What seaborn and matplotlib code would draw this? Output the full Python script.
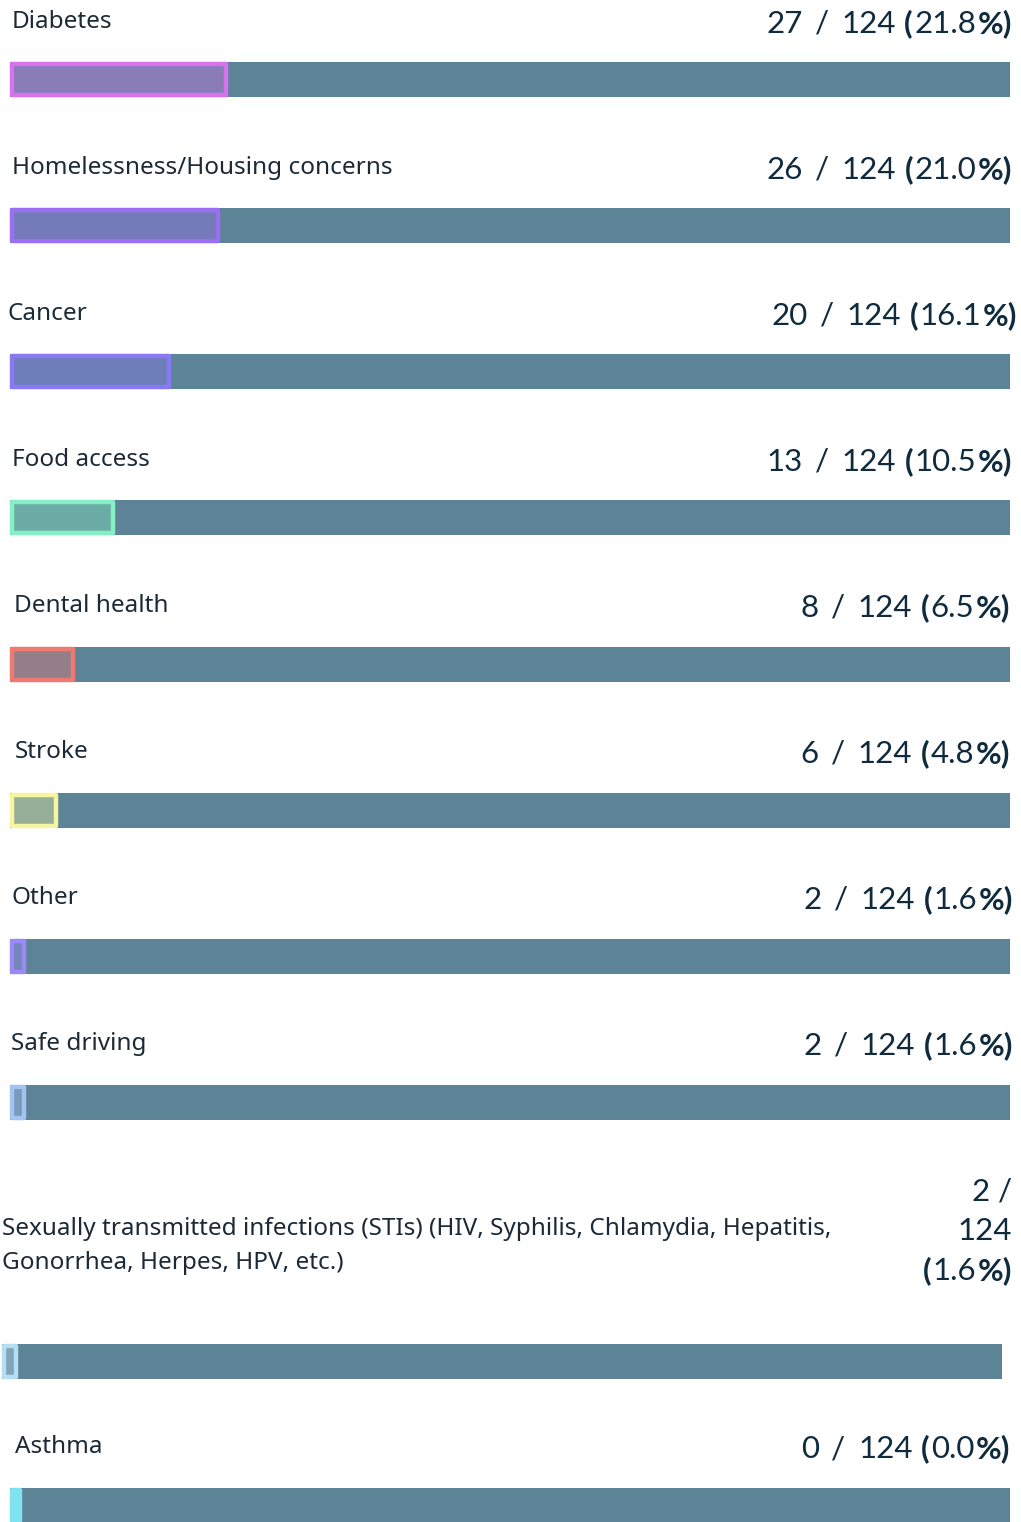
import matplotlib
matplotlib.use("Agg")
import matplotlib.pyplot as plt
import seaborn as sns

sns.set_theme(style="white")
plt.rcParams['font.family'] = ['Noto Sans', 'DejaVu Sans']

# data
labels = [
    "Diabetes",
    "Homelessness/Housing concerns",
    "Cancer",
    "Food access",
    "Dental health",
    "Stroke",
    "Other",
    "Safe driving",
    "Sexually transmitted infections (STIs) (HIV, Syphilis, Chlamydia, Hepatitis,\nGonorrhea, Herpes, HPV, etc.)",
    "Asthma",
]
counts = [27, 26, 20, 13, 8, 6, 2, 2, 2, 0]
total = 124
colors = ["#d672ee", "#9b6ff2", "#8a78f5", "#86f0c4", "#ee7b72",
          "#f6f6a0", "#9a8af5", "#a3c3f2", "#b6def0", "#7fe3ef"]

# layout (pixels, top-down)
W, H = 1021, 1522
track_top = [62, 208, 354, 500, 647, 793, 939, 1085, 1344, 1488]
track_left = [10, 10, 10, 10, 10, 10, 10, 10, 2, 10]
label_y = [22, 168, 314, 460, 606, 752, 898, 1044, 1246, 1447]
label_x = [12, 12, 7, 12, 14, 15, 11, 11, 2, 15]
value_y = [33, 179, 325, 471, 617, 763, 909, 1055, 1240, 1458]  # baselines
value_x = [1012, 1012, 1017, 1012, 1010, 1010, 1013, 1013, 1012, 1010]
track_w = 1000
bar_h = 35
track_color = "#5d8396"
val_kw = dict(fontsize=22.5, color="#0f2b3d", family=["Lato", "DejaVu Sans"])

fig = plt.figure(figsize=(W / 100, H / 100), dpi=100)
ax = fig.add_axes([0, 0, 1, 1])
ax.set_xlim(0, W)
ax.set_ylim(H, 0)
ax.axis("off")


def rich_right(x, y, parts):
    # chain pieces right to left, each anchored on the left edge of the previous one
    prev = None
    for s, wt, gap in reversed(parts):
        if prev is None:
            prev = ax.text(x, y, s, ha="right", va="baseline", fontweight=wt, **val_kw)
        else:
            prev = ax.annotate(s, xy=(0, y), xycoords=(prev, "data"),
                               xytext=(-gap, 0), textcoords="offset points",
                               ha="right", va="baseline", fontweight=wt, **val_kw)


for i, (lab, n, c) in enumerate(zip(labels, counts, colors)):
    y = track_top[i] + bar_h / 2
    x0 = track_left[i]
    ax.barh(y, track_w, left=x0, height=bar_h, color=track_color, linewidth=0)
    w = max(n / total * track_w, 12)
    ax.barh(y, w - 4, left=x0 + 2, height=bar_h - 4, color=c, alpha=0.38, linewidth=0)
    ax.barh(y, w - 4, left=x0 + 2, height=bar_h - 4, facecolor="none",
            edgecolor=c, linewidth=3.2, joinstyle="round")
    if n == 0:
        ax.barh(y, w - 4, left=x0 + 2, height=bar_h - 4, color=c, linewidth=0)
    ax.text(label_x[i], label_y[i], lab, ha="left", va="center", fontsize=17.5,
            color="#1b2a36", linespacing=1.55)
    pct = f"{n / total * 100:.1f}"
    if "\n" in lab:
        rich_right(value_x[i], value_y[i] - 39, [(f"{n}", "normal", 6), ("/", "normal", 0)])
        rich_right(value_x[i], value_y[i], [(f"{total}", "normal", 0)])
        rich_right(value_x[i], value_y[i] + 40,
                   [("(", "bold", 1), (pct, "normal", 1), ("%)", "bold", 0)])
    else:
        rich_right(value_x[i], value_y[i],
                   [(f"{n}", "normal", 9), ("/", "normal", 9), (f"{total}", "normal", 6),
                    ("(", "bold", 1), (pct, "normal", 1), ("%)", "bold", 0)])

fig.savefig("out.png", dpi=100)
